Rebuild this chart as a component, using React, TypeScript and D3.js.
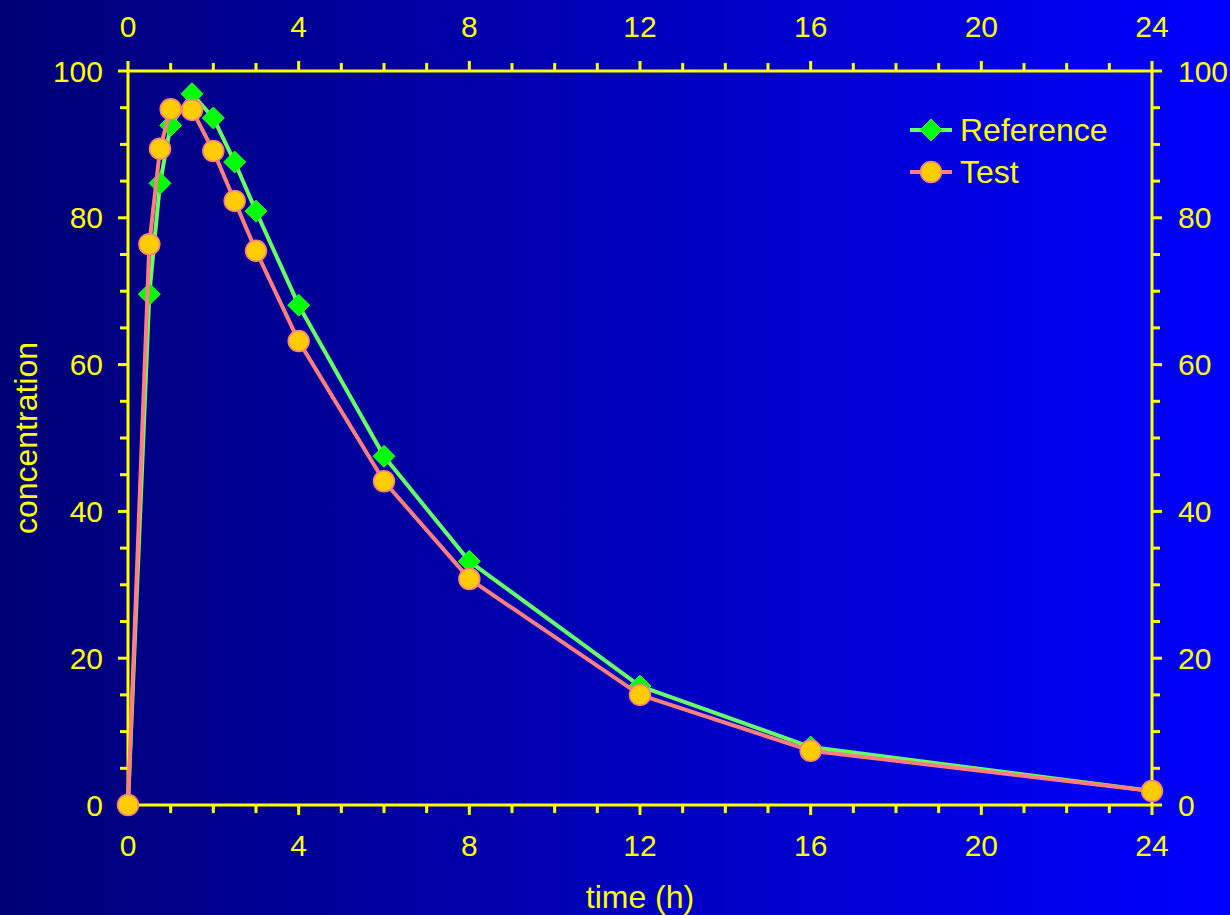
import React from "react";
import * as d3 from "d3";

const times = [0, 0.5, 0.75, 1, 1.5, 2, 2.5, 3, 4, 6, 8, 12, 16, 24];
const referenceValues = [0, 69.6, 84.7, 92.6, 96.9, 93.6, 87.6, 80.9, 68.1, 47.5, 33.2, 16.2, 7.9, 1.9];
const testValues = [0, 76.4, 89.4, 94.8, 94.7, 89.1, 82.3, 75.5, 63.2, 44.1, 30.8, 15.0, 7.4, 1.9];
const xMajorTicks = [0, 4, 8, 12, 16, 20, 24];
const yMajorTicks = [0, 20, 40, 60, 80, 100];
const seriesNames = ["Reference", "Test"];

const W = 1230;
const H = 915;
const L = 128, R = 1152, T = 71, B = 805;
const AX = "#ffff00";
const FONT = "'Liberation Sans', Arial, sans-serif";

export default function App() {
  const x = d3.scaleLinear().domain([0, 24]).range([L, R]);
  const y = d3.scaleLinear().domain([0, 100]).range([B, T]);
  const xMinor = d3.range(0, 25, 1).filter((v) => v % 4 !== 0);
  const yMinor = d3.range(0, 101, 5).filter((v) => v % 20 !== 0);
  const line = d3.line<number>().x((_, i) => x(times[i])).y((d) => y(d));
  const diamond = (cx: number, cy: number, s = 11) =>
    `M${cx},${cy - s}L${cx + s},${cy}L${cx},${cy + s}L${cx - s},${cy}Z`;
  const majLen = 10, minLen = 8;
  const tickFs = 30;

  return (
    <svg width={W} height={H} style={{ display: "block", position: "absolute", left: 0, top: 0 }} fontFamily={FONT}>
      <defs>
        <linearGradient id="bg" x1="0" y1="0" x2="1" y2="0">
          <stop offset="0" stopColor="#000074" />
          <stop offset="1" stopColor="#0000ff" />
        </linearGradient>
      </defs>
      <rect x={0} y={0} width={W} height={H} fill="url(#bg)" />
      <g stroke={AX} strokeWidth={3} fill="none">
        <line x1={L} y1={T} x2={R} y2={T} />
        <line x1={L} y1={B} x2={R} y2={B} />
        <line x1={L} y1={T} x2={L} y2={B} />
        <line x1={R} y1={T} x2={R} y2={B} />
        {xMajorTicks.map((v) => (
          <g key={"xm" + v}>
            <line x1={x(v)} x2={x(v)} y1={B} y2={B + majLen} />
            <line x1={x(v)} x2={x(v)} y1={T} y2={T - majLen} />
          </g>
        ))}
        {xMinor.map((v) => (
          <g key={"xn" + v}>
            <line x1={x(v)} x2={x(v)} y1={B} y2={B + minLen} />
            <line x1={x(v)} x2={x(v)} y1={T} y2={T - minLen} />
          </g>
        ))}
        {yMajorTicks.map((v) => (
          <g key={"ym" + v}>
            <line x1={L} x2={L - majLen} y1={y(v)} y2={y(v)} />
            <line x1={R} x2={R + majLen} y1={y(v)} y2={y(v)} />
          </g>
        ))}
        {yMinor.map((v) => (
          <g key={"yn" + v}>
            <line x1={L} x2={L - minLen} y1={y(v)} y2={y(v)} />
            <line x1={R} x2={R + minLen} y1={y(v)} y2={y(v)} />
          </g>
        ))}
      </g>
      <g fill={AX} fontSize={tickFs}>
        {xMajorTicks.map((v) => (
          <g key={"xl" + v}>
            <text x={x(v)} y={B + 51} textAnchor="middle">{v}</text>
            <text x={x(v)} y={T - 34} textAnchor="middle">{v}</text>
          </g>
        ))}
        {yMajorTicks.map((v) => (
          <g key={"yl" + v}>
            <text x={L - 25} y={y(v)} dy="0.35em" textAnchor="end">{v}</text>
            <text x={R + 26} y={y(v)} dy="0.35em" textAnchor="start">{v}</text>
          </g>
        ))}
      </g>
      <text x={(L + R) / 2} y={908} fill={AX} fontSize={32} textAnchor="middle">time (h)</text>
      <text transform={`translate(37,${(T + B) / 2}) rotate(-90)`} fill={AX} fontSize={32} textAnchor="middle">concentration</text>

      <path d={line(referenceValues) || ""} fill="none" stroke="#66ff66" strokeWidth={4} strokeLinejoin="round" />
      {referenceValues.map((v, i) => (
        <path key={"r" + i} d={diamond(x(times[i]), y(v))} fill="#00ff00" stroke="#44ee44" strokeWidth={1} />
      ))}
      <path d={line(testValues) || ""} fill="none" stroke="#ff7f7f" strokeWidth={4} strokeLinejoin="round" />
      {testValues.map((v, i) => (
        <circle key={"t" + i} cx={x(times[i])} cy={y(v)} r={10.5} fill="#ffcc00" stroke="#ff7f7f" strokeWidth={1.5} />
      ))}

      <g>
        <line x1={910} x2={952} y1={130} y2={130} stroke="#66ff66" strokeWidth={4} />
        <path d={diamond(931, 130)} fill="#00ff00" stroke="#44ee44" strokeWidth={1} />
        <text x={960} y={130} dy="0.35em" fill={AX} fontSize={32}>{seriesNames[0]}</text>
        <line x1={910} x2={952} y1={172} y2={172} stroke="#ff7f7f" strokeWidth={4} />
        <circle cx={931} cy={172} r={10.5} fill="#ffcc00" stroke="#ff7f7f" strokeWidth={1.5} />
        <text x={960} y={172} dy="0.35em" fill={AX} fontSize={32}>{seriesNames[1]}</text>
      </g>
    </svg>
  );
}
